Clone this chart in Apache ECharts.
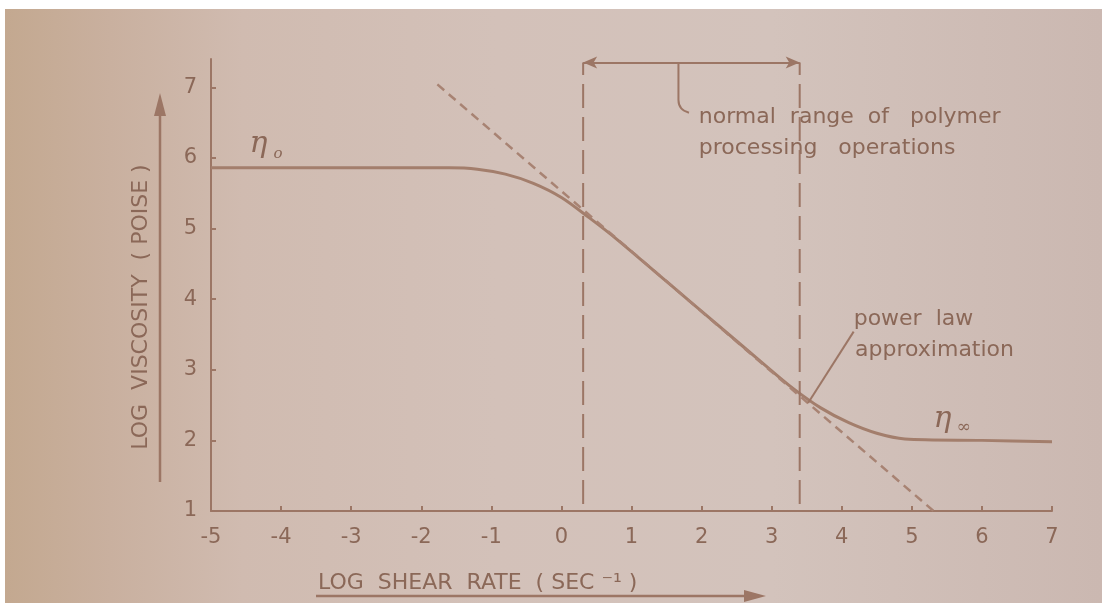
<!DOCTYPE html>
<html>
<head>
<meta charset="utf-8">
<script src="https://cdn.jsdelivr.net/npm/echarts@6/dist/echarts.min.js"></script>
<style>
  html, body { margin: 0; padding: 0; background: #fff; }
  #chart {
    width: 1102px; height: 603px;
    background:
      linear-gradient(#fff, #fff) top left / 100% 9px no-repeat,
      linear-gradient(#fff, #fff) top left / 5px 100% no-repeat,
      linear-gradient(90deg, #c3a88f 0%, #c9b09f 10%, #d0bbb0 22%, #d3c1b9 45%, #d3c3bc 70%, #cbb8b1 100%);
  }
</style>
</head>
<body>
<div id="chart"></div>
<script>
// log shear rate / log viscosity
const xTicks = [-5, -4, -3, -2, -1, 0, 1, 2, 3, 4, 5, 6, 7];
const yTicks = [1, 2, 3, 4, 5, 6, 7];
const curveX = [-5, -3, -1.6, -1.2, -0.8, -0.4, 0, 0.4, 0.8, 1.5, 2.2, 2.9, 3.3, 3.7, 4.1, 4.5, 4.9, 6, 7];
const curveY = [5.86, 5.86, 5.86, 5.84, 5.77, 5.64, 5.44, 5.15, 4.84, 4.25, 3.66, 3.07, 2.74, 2.46, 2.25, 2.1, 2.02, 2.0, 1.98];
const powerX = [-1.77, 5.31];
const powerY = [7.04, 1.0];
const rangeX = [0.31, 3.4];
const rangeTop = 7.35;
const rangeBottom = 1.1;

const TX = '#8b6858';
const LN = '#9c7665';
const FONT = 'DejaVu Sans';

const zip = (a, b) => a.map((v, i) => [v, b[i]]);

const chart = echarts.init(document.getElementById('chart'));
chart.setOption({
  animation: false,
  grid: { left: 211, right: 50, top: 59, bottom: 92 },
  xAxis: {
    type: 'value', min: -5, max: 7, interval: 1,
    axisLine: { onZero: false, lineStyle: { color: LN, width: 2 } },
    axisTick: { inside: true, length: 5, lineStyle: { color: LN, width: 2 } },
    axisLabel: { color: TX, fontSize: 21, fontFamily: FONT, margin: 16, customValues: xTicks },
    splitLine: { show: false }
  },
  yAxis: {
    type: 'value', min: 1, max: 7.4, interval: 1,
    axisLine: { show: true, onZero: false, lineStyle: { color: LN, width: 2 } },
    axisTick: { show: true, inside: true, length: 5, lineStyle: { color: LN, width: 2 }, customValues: yTicks },
    axisLabel: { color: TX, fontSize: 21, fontFamily: FONT, margin: 14, customValues: yTicks,
      formatter: v => Number.isInteger(v) ? String(v) : '' },
    splitLine: { show: false }
  },
  series: [
    { type: 'line', data: zip(curveX, curveY), showSymbol: false, smooth: 0.3,
      lineStyle: { color: '#a37e6c', width: 3 } },
    { type: 'line', data: zip(powerX, powerY), showSymbol: false,
      lineStyle: { color: '#a88373', width: 2.5, type: [9, 6] } },
    { type: 'line', data: [[rangeX[0], rangeBottom], [rangeX[0], rangeTop]], showSymbol: false,
      lineStyle: { color: LN, width: 2, type: [24, 9] } },
    { type: 'line', data: [[rangeX[1], rangeBottom], [rangeX[1], rangeTop]], showSymbol: false,
      lineStyle: { color: LN, width: 2, type: [24, 9] },
      markLine: {
        silent: true, symbol: ['arrow', 'arrow'], symbolSize: [9, 14],
        label: { show: false },
        lineStyle: { color: LN, width: 2, type: 'solid' },
        data: [[{ coord: [rangeX[0], rangeTop] }, { coord: [rangeX[1], rangeTop] }]]
      } },
    // leader from the bracket to its note
    { type: 'line', data: [[1.67, rangeTop], [1.67, 6.82], [1.71, 6.7], [1.82, 6.64]], showSymbol: false, smooth: 0.4,
      lineStyle: { color: LN, width: 2 } },
    // leader to the power law note
    { type: 'line', data: [[4.17, 3.54], [3.52, 2.53]], showSymbol: false,
      lineStyle: { color: LN, width: 2 } }
  ]
});

const P = (x, y) => chart.convertToPixel({ gridIndex: 0 }, [x, y]);
function txt(pt, text, size, extra) {
  return {
    type: 'text', x: pt[0], y: pt[1],
    style: Object.assign({ text: text, fill: TX, fontSize: size, fontFamily: FONT,
      align: 'left', textAlign: 'left', verticalAlign: 'middle', textVerticalAlign: 'middle' }, extra || {})
  };
}

const n1 = P(1.96, 6.57), n2 = P(1.96, 6.14);
const p1 = P(4.17, 3.71), p2 = P(4.19, 3.28);
const e0 = P(-4.45, 6.35), ei = P(5.31, 2.46);
const serif = { fontFamily: 'DejaVu Serif', fontStyle: 'italic', verticalAlign: 'top', textVerticalAlign: 'top' };

chart.setOption({
  graphic: [
    txt(n1, 'normal  range  of   polymer', 22),
    txt(n2, 'processing   operations', 22),
    txt(p1, 'power  law', 22),
    txt(p2, 'approximation', 22),
    txt([e0[0], e0[1] - 4], 'η', 30, serif),
    txt([e0[0] + 24, e0[1] + 13], 'o', 15, serif),
    txt([ei[0], ei[1] - 4], 'η', 30, serif),
    txt([ei[0] + 23, ei[1] + 11], '∞', 17, serif),
    // axis titles with their arrows
    txt([318, 583], 'LOG  SHEAR  RATE  ( SEC ⁻¹ )', 22),
    { type: 'line', shape: { x1: 316, y1: 596, x2: 748, y2: 596 }, style: { stroke: LN, lineWidth: 2.5 } },
    { type: 'polygon', shape: { points: [[744, 590], [766, 596], [744, 602]] }, style: { fill: LN } },
    { type: 'text', x: 141, y: 307, rotation: Math.PI / 2,
      style: { text: 'LOG  VISCOSITY  ( POISE )', fill: TX, fontSize: 22, fontFamily: FONT,
        align: 'center', textAlign: 'center', verticalAlign: 'middle', textVerticalAlign: 'middle' } },
    { type: 'line', shape: { x1: 160, y1: 482, x2: 160, y2: 112 }, style: { stroke: LN, lineWidth: 2.5 } },
    { type: 'polygon', shape: { points: [[154, 116], [160, 93], [166, 116]] }, style: { fill: LN } }
  ]
});
</script>
</body>
</html>
